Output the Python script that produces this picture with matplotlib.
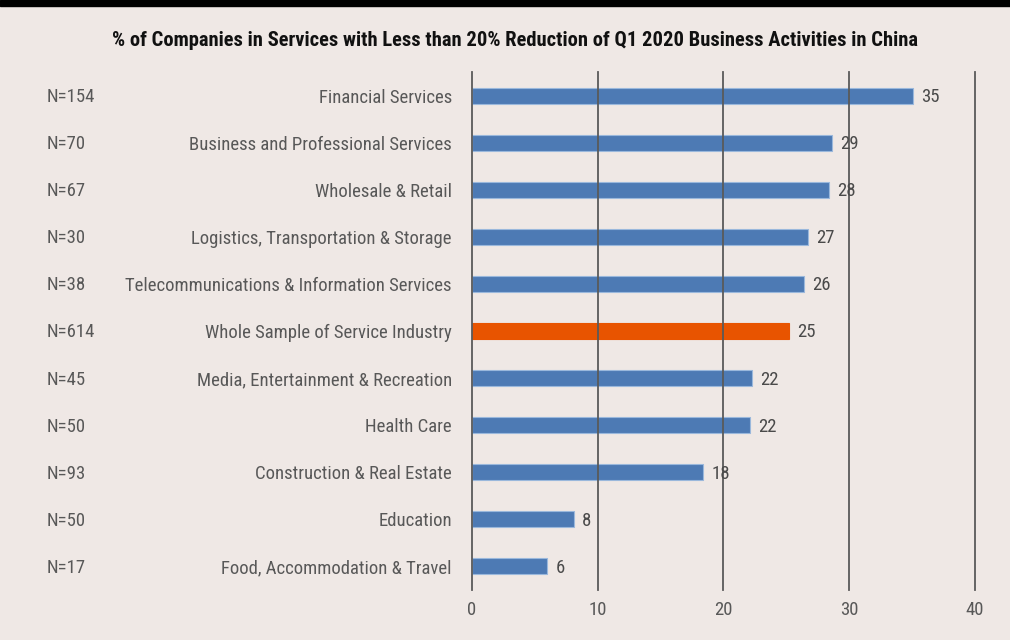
import matplotlib.pyplot as plt
from matplotlib import font_manager as fm
from matplotlib.transforms import blended_transform_factory

categories = ['Financial Services', 'Business and Professional Services', 'Wholesale & Retail',
              'Logistics, Transportation & Storage', 'Telecommunications & Information Services',
              'Whole Sample of Service Industry', 'Media, Entertainment & Recreation', 'Health Care',
              'Construction & Real Estate', 'Education', 'Food, Accommodation & Travel']
n_labels = ['N=154', 'N=70', 'N=67', 'N=30', 'N=38', 'N=614', 'N=45', 'N=50', 'N=93', 'N=50', 'N=17']
values = [35.1, 28.6, 28.4, 26.7, 26.4, 25.2, 22.3, 22.1, 18.4, 8.1, 6.0]
highlight = 'Whole Sample of Service Industry'

# pick a narrow font that is actually installed
installed = set(f.name for f in fm.fontManager.ttflist)
wanted = ['Roboto Condensed', 'Archivo Narrow', 'PT Sans Narrow', 'Liberation Sans Narrow']
narrow = [f for f in wanted if f in installed][:1]
plt.rcParams['font.family'] = narrow + ['DejaVu Sans']

bg = '#efe8e5'
txt_col = '#585858'
fs = 13.5

fig = plt.figure(figsize=(10.1, 6.4), dpi=100, facecolor=bg)
ax = fig.add_axes([0.4673, 0.0781, 0.4980, 0.8094])
ax.set_facecolor(bg)

# black strip at the top
fig.patches.append(plt.Rectangle((0, 1 - 6 / 640), 1, 6 / 640, transform=fig.transFigure,
                                 color='black', zorder=5))

y = list(range(len(categories)))
colors = ['#e85400' if c == highlight else '#4d7ab4' for c in categories]
edges = ['#e85400' if c == highlight else '#9ab8dc' for c in categories]
ax.barh(y, values, height=0.34, color=colors, edgecolor=edges, linewidth=0.8, zorder=2)

for yi, v in zip(y, values):
    ax.text(v + 0.65, yi + 0.03, str(round(v)), va='center', ha='left', fontsize=fs,
            color='#4a4a4a', zorder=4)

ax.set_xlim(0, 40)
ax.set_ylim(len(categories) - 0.5, -0.5)
ax.set_xticks([0, 10, 20, 30, 40])
for xv in [0, 10, 20, 30, 40]:
    ax.axvline(xv, color='#5a5a5a', linewidth=1.3, zorder=3, clip_on=False)

ax.set_yticks(y)
ax.set_yticklabels(categories, fontsize=fs, color=txt_col)
ax.tick_params(axis='y', length=0, pad=14.4)
ax.tick_params(axis='x', length=0, pad=8, labelsize=fs, labelcolor=txt_col)
for s in ax.spines.values():
    s.set_visible(False)

ntrans = blended_transform_factory(fig.transFigure, ax.transData)
for yi, lab in zip(y, n_labels):
    ax.text(47 / 1010, yi + 0.03, lab, transform=ntrans, va='center', ha='left',
            fontsize=fs, color=txt_col)

fig.text(0.51, 1 - 40 / 640, '% of Companies in Services with Less than 20% Reduction of Q1 2020 Business Activities in China',
         ha='center', va='center', fontsize=14.75, fontweight='bold', color='#111111')

plt.savefig('out.png', facecolor=bg)
